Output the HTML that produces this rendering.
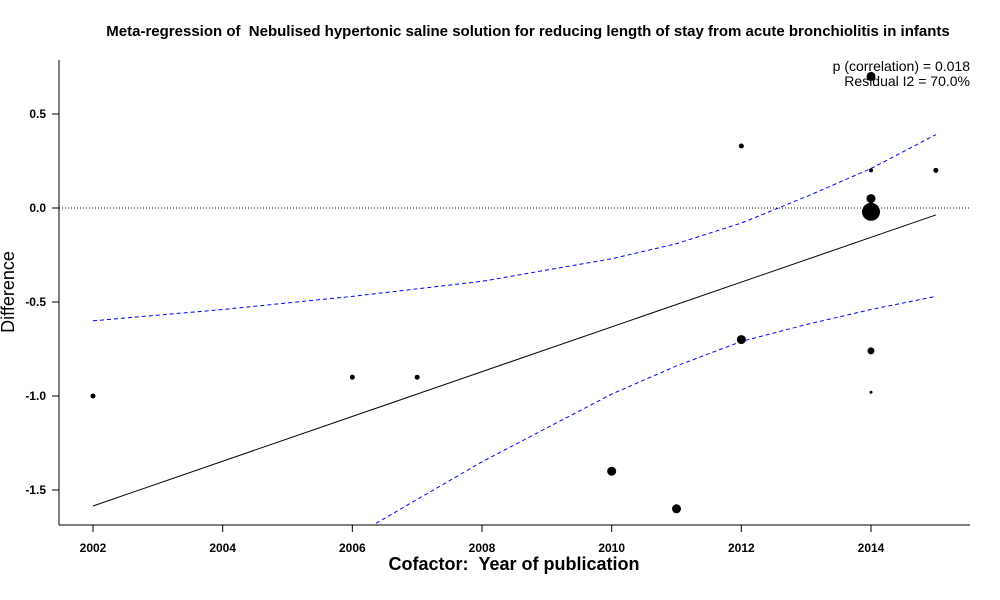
<!DOCTYPE html>
<html><head><meta charset="utf-8"><style>
html,body{margin:0;padding:0;background:#fff;overflow:hidden;width:1000px;height:600px}
svg{font-family:"Liberation Sans",sans-serif;display:block;position:absolute;left:0;top:0}
</style></head><body>
<svg width="1000" height="600" xml:space="preserve">
<defs><clipPath id="plot"><rect x="59" y="60" width="911" height="465"/></clipPath></defs>
<text x="528" y="36" text-anchor="middle" font-weight="bold" font-size="15">Meta-regression of &#160;Nebulised hypertonic saline solution for reducing length of stay from acute bronchiolitis in infants</text>
<line x1="59" y1="60" x2="59" y2="525" stroke="#000"/>
<line x1="59" y1="525" x2="970" y2="525" stroke="#000"/>
<g id="ticks"></g>
<g id="marks" clip-path="url(#plot)"></g>
<text x="514" y="570" text-anchor="middle" font-weight="bold" font-size="18">Cofactor: &#160;Year of publication</text>
<text transform="translate(14,292) rotate(-90)" text-anchor="middle" font-size="18">Difference</text>
<text x="970" y="71" text-anchor="end" font-size="14">p (correlation) = 0.018</text>
<text x="970" y="86" text-anchor="end" font-size="14">Residual I2 = 70.0%</text>
</svg>
<script>
const xTicks=[2002,2004,2006,2008,2010,2012,2014];
const yTicks=[0.5,0.0,-0.5,-1.0,-1.5];
const yTickLabels=["0.5","0.0","-0.5","-1.0","-1.5"];
const studyYears=[2002,2006,2007,2010,2011,2012,2012,2014,2014,2014,2014,2014,2014,2015];
const studyDiffs=[-1.0,-0.9,-0.9,-1.4,-1.6,0.33,-0.7,0.70,0.20,0.05,-0.02,-0.76,-0.98,0.20];
const studyWeights=[2.5,2.5,2.5,4.5,4.5,2.5,4.5,4.5,2,4.5,9,3.5,1.5,2.5];
const fitYears=[2002,2015];
const fitValues=[-1.585,-0.037];
const ciYears=[2002,2004,2006,2008,2010,2011,2012,2013,2014,2015];
const ciUpper=[-0.60,-0.54,-0.47,-0.39,-0.27,-0.19,-0.08,0.06,0.21,0.39];
const ciLower=[-2.57,-2.16,-1.75,-1.35,-0.99,-0.84,-0.71,-0.62,-0.54,-0.47];
const X=v=>93+(v-2002)*(871-93)/12;
const Y=v=>208-v*188;
const NS="http://www.w3.org/2000/svg";
function mk(tag,attrs,parent){const e=document.createElementNS(NS,tag);for(const k in attrs)e.setAttribute(k,attrs[k]);parent.appendChild(e);return e;}
const tk=document.getElementById('ticks'),mg=document.getElementById('marks');
xTicks.forEach(t=>{
 const l=mk('line',{x1:X(t),x2:X(t),y1:525,y2:532,stroke:'#000'},tk);
 
 
 const tx=mk('text',{x:X(t),y:552,'text-anchor':'middle','font-size':12,'font-weight':'bold'},tk);tx.textContent=t;
 
 
});
yTicks.forEach((t,i)=>{
 const l=mk('line',{x1:52,x2:59,y1:Y(t),y2:Y(t),stroke:'#000'},tk);
 
 
 const tx=mk('text',{x:46,y:Y(t)+4,'text-anchor':'end','font-size':12,'font-weight':'bold'},tk);tx.textContent=yTickLabels[i];
 
 
});
const z=mk('line',{x1:59,x2:970,y1:Y(0),y2:Y(0),stroke:'#000','stroke-dasharray':'1,2'},mg);


const f=mk('line',{x1:X(fitYears[0]),y1:Y(fitValues[0]),x2:X(fitYears[1]),y2:Y(fitValues[1]),stroke:'#000'},mg);


[[ciUpper,'ci-upper-line'],[ciLower,'ci-lower-line']].forEach(([arr,nm])=>{
 const p=mk('polyline',{points:ciYears.map((y,i)=>X(y)+','+Y(arr[i])).join(' '),fill:'none',stroke:'#00f','stroke-dasharray':'4,3'},mg);
 
 
});
studyYears.forEach((y,i)=>{
 const c=mk('circle',{cx:X(y),cy:Y(studyDiffs[i]),r:studyWeights[i],fill:'#000'},mg);
 
 
});
</script>
</body></html>
